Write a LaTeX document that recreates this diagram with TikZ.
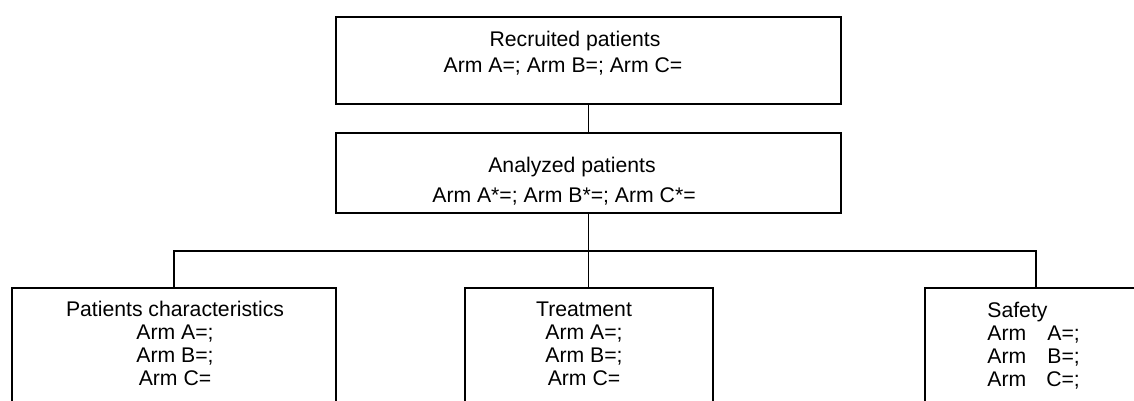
\documentclass[tikz,border=0pt]{standalone}
\usepackage{fontspec}
\setmainfont{Liberation Sans}

\begin{document}
\begin{tikzpicture}[x=0.5pt,y=-0.5pt,
  box/.style={draw,line width=1pt,inner sep=0pt},
  txt/.style={inner sep=0pt,font=\fontsize{10.6}{11.5}\selectfont},
  link/.style={line width=0.8pt}]
  \path[use as bounding box] (0,0) rectangle (1134,401);
  \fill[white] (0,0) rectangle (1134,401);
  \clip (0,0) rectangle (1134,401);

  % Boxes
  \node[box,minimum width=252.5pt,minimum height=43.5pt] (recruited) at (588.5,60.5) {};
  \node[box,minimum width=252.5pt,minimum height=40pt] (analyzed) at (588.5,173) {};
  \node[box,minimum width=162pt,minimum height=70pt,anchor=north] (chars) at (174,287) {};
  \node[box,minimum width=124pt,minimum height=70pt,anchor=north] (treat) at (588.5,287) {};
  \node[box,minimum width=111pt,minimum height=70pt,anchor=north] (safety) at (1036,287) {};

  % Texts
  \node[txt] (recTitle) at (575,41) {Recruited patients};
  \node[txt] (recArms) at (563,66) {Arm A=; Arm B=; Arm C=};
  \node[txt] (anaTitle) at (572,167) {Analyzed patients};
  \node[txt] (anaArms) at (564,196) {Arm A*=; Arm B*=; Arm C*=};
  \node[txt,align=center] (charsText) at (175,343.5) {Patients characteristics\\Arm A=;\\Arm B=;\\Arm C=};
  \node[txt,align=center] (treatText) at (584,343.5) {Treatment\\Arm A=;\\Arm B=;\\Arm C=};
  \node[txt,anchor=west] (safetyText) at (987,347.5) {\begin{tabular}{@{}l@{\hspace{10pt}}r@{}}
    \multicolumn{2}{@{}l@{}}{Safety}\\
    Arm & A=;\\
    Arm & B=;\\
    Arm & C=;
  \end{tabular}};

  % Connectors
  \coordinate (split) at (588.5,251);
  \draw[link] (recruited.south) -- (analyzed.north);
  \draw[link] (analyzed.south) -- (split) -- (treat.north);
  \draw[link,line width=1pt] (chars.north) |- (split) -| (safety.north);
\end{tikzpicture}
\end{document}
